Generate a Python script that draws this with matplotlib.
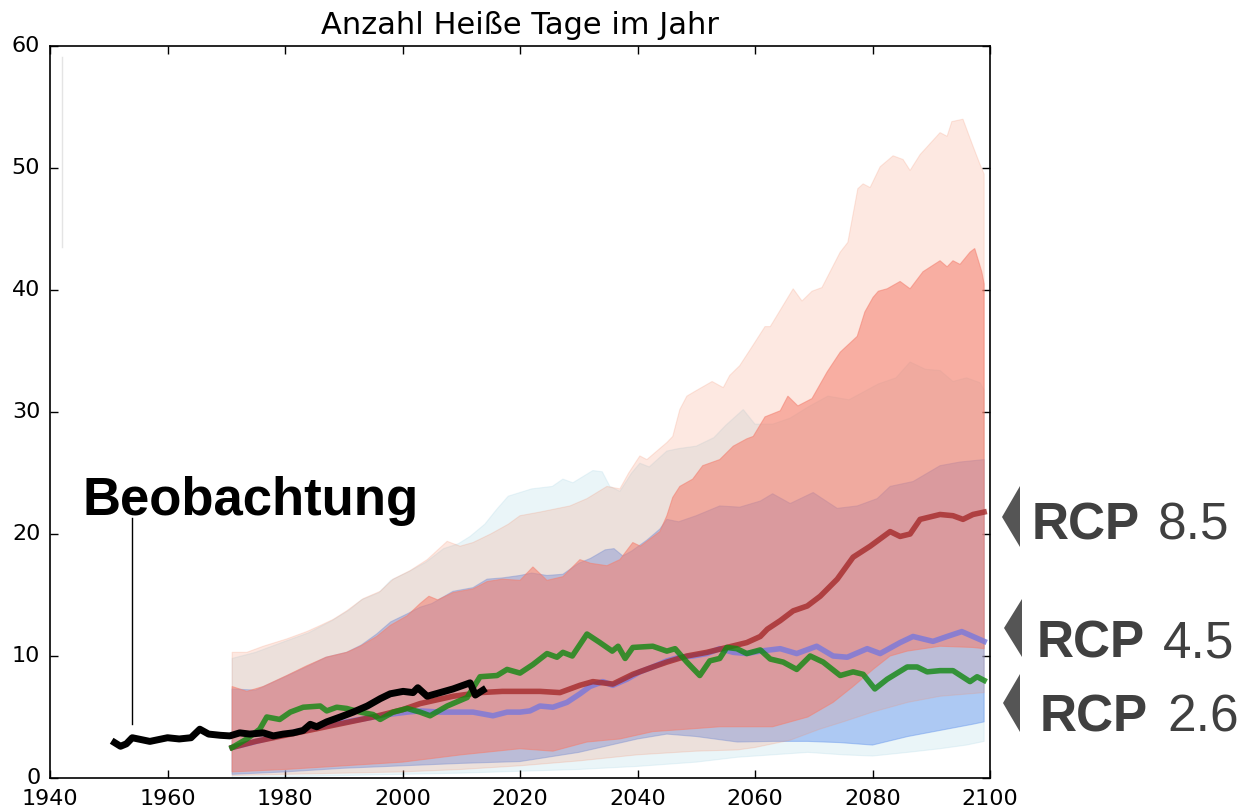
import numpy as np
import matplotlib
matplotlib.use("Agg")
import matplotlib.pyplot as plt
from matplotlib.patches import Polygon
from matplotlib.transforms import ScaledTranslation

# ---------------- data ----------------
title = "Anzahl Heiße Tage im Jahr"
xticks = [1940, 1960, 1980, 2000, 2020, 2040, 2060, 2080, 2100]
yticks = [0, 10, 20, 30, 40, 50, 60]

# RCP4.5 outer band (min-max)
yr_45o_up = [1971, 1975, 1980, 1984, 1988, 1991, 1993, 1996, 1998, 2001, 2004, 2007, 2009.5, 2011.5,
             2014, 2016, 2018, 2020, 2022, 2025.5, 2027.3, 2029, 2032.4, 2034, 2035.3, 2037, 2039,
             2040.4, 2042, 2045, 2047, 2050, 2053, 2055, 2058, 2060, 2063, 2066, 2069, 2072.4, 2076,
             2081, 2084, 2086.4, 2089, 2091.5, 2093.7, 2096, 2098.3, 2099]
v_45o_up = [9.8, 10.3, 11.2, 11.9, 12.9, 13.8, 14.6, 15.2, 16.2, 16.9, 17.7, 18.8, 19.2, 19.8,
            20.8, 22.0, 23.1, 23.4, 23.7, 23.9, 24.5, 24.2, 25.2, 25.1, 23.9, 23.5, 25.0,
            25.8, 25.5, 26.8, 27.0, 27.2, 27.9, 28.9, 30.2, 29.0, 29.0, 29.5, 30.4, 31.3, 31.0,
            32.3, 32.8, 34.1, 33.5, 33.4, 32.5, 32.8, 32.4, 31.8]
yr_45o_lo = [1971, 1980, 1990, 2000, 2010, 2020, 2030, 2040, 2050, 2057, 2063, 2069, 2075, 2080,
             2086, 2091.5, 2096, 2099]
v_45o_lo = [0.0, 0.1, 0.2, 0.3, 0.4, 0.55, 0.7, 0.95, 1.3, 1.7, 1.9, 2.1, 1.9, 1.8,
            2.1, 2.4, 2.7, 3.0]

# RCP8.5 outer band (min-max)
yr_85o_up = [1971, 1973.5, 1976.3, 1980.3, 1983.7, 1986, 1988.2, 1990.5, 1993.3, 1996.2, 1998.4,
             2001.3, 2004.2, 2007.6, 2009.8, 2012, 2015, 2018, 2020, 2023.4, 2028.5, 2031.4,
             2034.8, 2037, 2038.5, 2040.4, 2041.6, 2045, 2046, 2047.2, 2048.4, 2049.8, 2052.7,
             2054.6, 2055.7, 2057.4, 2059.7, 2061.7, 2062.6, 2066.5, 2068, 2069.7, 2071.4, 2074.5,
             2075.8, 2077.5, 2078.4, 2079.6, 2081.3, 2083.5, 2085.2, 2086.4, 2088.1, 2091.5,
             2092.7, 2093.5, 2095.4, 2097.1, 2098.3, 2099]
v_85o_up = [10.3, 10.3, 10.8, 11.4, 12.0, 12.5, 13.0, 13.7, 14.7, 15.3, 16.3,
            17.0, 17.9, 19.4, 19.0, 19.3, 20.0, 20.8, 21.5, 21.8, 22.3, 22.9,
            23.9, 23.7, 25.0, 26.4, 26.1, 27.5, 28.0, 30.2, 31.3, 31.7, 32.5,
            32.0, 33.0, 33.8, 35.5, 37.0, 37.0, 40.1, 39.1, 39.9, 40.2, 43.1,
            43.9, 48.3, 48.7, 48.4, 50.1, 51.0, 50.7, 49.8, 51.1, 52.9,
            52.6, 53.8, 54.0, 51.8, 50.3, 49.5]
yr_85o_lo = [1971, 1980, 1990, 2000, 2010, 2020, 2030, 2040, 2050, 2057, 2060, 2066, 2071, 2075,
             2080, 2086, 2091.5, 2099]
v_85o_lo = [0.2, 0.3, 0.4, 0.5, 0.7, 1.0, 1.4, 1.9, 2.2, 2.3, 2.5, 3.1, 4.0, 4.6,
            5.4, 6.2, 6.7, 7.0]

# RCP4.5 inner band
yr_45i_up = [1971, 1975, 1980, 1984, 1987, 1990.5, 1993, 1995.6, 1998, 2001, 2003, 2005, 2008.6,
             2012, 2014.4, 2017, 2020, 2022, 2024.6, 2027.3, 2030, 2032, 2034.5, 2036, 2037.5,
             2039, 2041.6, 2043.8, 2045, 2047, 2050, 2054, 2057.4, 2060.9, 2063, 2066, 2069.9,
             2074, 2077.4, 2080.8, 2083, 2086.9, 2091.5, 2094.9, 2099]
v_45i_up = [7.3, 7.2, 8.3, 9.2, 9.9, 10.3, 10.9, 11.8, 12.8, 13.5, 14.0, 14.3, 15.3,
            15.6, 16.3, 16.4, 16.6, 16.8, 16.6, 16.7, 17.6, 18.0, 18.7, 18.8, 18.2,
            18.6, 19.5, 20.4, 21.2, 21.0, 21.5, 22.3, 22.2, 22.7, 23.3, 22.5, 23.4,
            22.1, 22.3, 22.9, 23.9, 24.3, 25.6, 25.9, 26.1]
yr_45i_lo = [1971, 1980, 1990, 2000, 2010, 2020, 2030, 2040, 2045, 2050, 2057, 2063, 2069, 2074.5,
             2080, 2086, 2091.5, 2097, 2099]
v_45i_lo = [0.3, 0.5, 0.8, 1.0, 1.2, 1.35, 2.1, 3.2, 3.6, 3.4, 2.95, 3.0, 3.0, 2.9,
            2.7, 3.4, 3.9, 4.4, 4.6]

# RCP8.5 inner band
yr_85i_up = [1971, 1973.5, 1976.3, 1980.3, 1983.7, 1987, 1990.5, 1992.8, 1995.6, 1997.9, 2000.8,
             2003, 2004.5, 2006, 2008.6, 2012, 2014.4, 2017, 2020, 2022.2, 2024.6, 2027.3, 2030.2,
             2032, 2034.8, 2037, 2039.2, 2040.5, 2041.6, 2043.8, 2045, 2046, 2047.2, 2049.4,
             2051.1, 2054, 2056.3, 2058.6, 2059.7, 2061.7, 2064.3, 2065.6, 2067.3, 2069.7, 2072.3,
             2074.5, 2077.4, 2078.7, 2080.1, 2081, 2082.5, 2084.7, 2086.4, 2088.6, 2091.5, 2092.7,
             2093.7, 2094.9, 2096.6, 2097.4, 2098.6, 2099]
v_85i_up = [7.5, 7.1, 7.5, 8.4, 9.2, 9.9, 10.3, 10.8, 11.6, 12.5, 13.3,
            14.3, 14.9, 14.6, 15.2, 15.5, 16.1, 16.3, 16.2, 17.3, 16.2, 16.5, 17.9,
            17.6, 17.4, 17.9, 19.3, 19.0, 19.4, 20.2, 21.5, 23.0, 23.9, 24.5,
            25.6, 26.1, 27.2, 27.8, 28.0, 29.6, 30.1, 31.3, 30.5, 31.1, 33.3,
            34.9, 36.2, 38.2, 39.4, 39.9, 40.1, 40.7, 40.1, 41.5, 42.4, 41.9,
            42.4, 42.1, 43.1, 43.4, 41.5, 40.5]
yr_85i_lo = [1971, 1980, 1990, 2000, 2010, 2020, 2025.6, 2031.4, 2037, 2042.6, 2048.4, 2054, 2059,
             2063, 2069, 2073.3, 2076.7, 2080.1, 2083, 2085.9, 2091.5, 2097.1, 2099]
v_85i_lo = [0.5, 0.7, 1.0, 1.3, 1.9, 2.4, 2.2, 2.95, 3.2, 3.8, 4.0, 4.2, 4.2,
            4.2, 5.0, 6.2, 7.5, 8.9, 10.0, 10.4, 10.8, 10.7, 10.6]

# Median lines
yr_rcp45 = [1971, 1980, 1986, 1991.6, 1997.4, 2000.8, 2003, 2006.4, 2012, 2015.4, 2017.8, 2020,
            2021.7, 2023.4, 2025.6, 2028, 2030.2, 2031.9, 2034.1, 2035.8, 2038.2, 2040.4, 2042.6,
            2045, 2047.2, 2049.4, 2051.8, 2054, 2056.3, 2058.6, 2060.9, 2064.3, 2067.1, 2070.5,
            2073.3, 2075.7, 2079.1, 2081.3, 2084.7, 2086.9, 2090.3, 2092.7, 2095.2, 2097.1, 2099]
v_rcp45 = [2.5, 3.6, 4.2, 4.7, 5.2, 5.4, 5.5, 5.4, 5.4, 5.1, 5.4, 5.4,
           5.5, 5.9, 5.8, 6.2, 6.9, 7.5, 7.9, 7.6, 8.1, 8.7, 9.1,
           9.6, 9.9, 10.0, 10.2, 10.6, 10.3, 10.2, 10.4, 10.6, 10.2, 10.8,
           10.0, 9.9, 10.6, 10.2, 11.1, 11.6, 11.2, 11.6, 12.0, 11.6, 11.2]

yr_rcp85 = [1971, 1975, 1980, 1985, 1990, 1995, 2000, 2003, 2008.6, 2013.2, 2017, 2020, 2023.4,
            2026.8, 2030.2, 2032.4, 2035.8, 2039.2, 2042.6, 2045, 2048.4, 2051.8, 2055.2, 2058.6,
            2060.9, 2062.1, 2064.3, 2066.5, 2068.9, 2071.1, 2074, 2076.7, 2079.6, 2083, 2084.7,
            2086.4, 2088.1, 2091.5, 2093.7, 2095.4, 2097.1, 2099]
v_rcp85 = [2.5, 3.0, 3.5, 4.0, 4.5, 5.0, 5.6, 6.1, 6.7, 7.0, 7.1, 7.1, 7.1,
           7.0, 7.6, 7.9, 7.7, 8.5, 9.1, 9.5, 10.0, 10.3, 10.7, 11.1,
           11.6, 12.2, 12.9, 13.7, 14.1, 14.9, 16.3, 18.1, 19.0, 20.2, 19.8,
           20.0, 21.2, 21.6, 21.5, 21.2, 21.6, 21.8]

yr_rcp26 = [1971, 1973.5, 1975.7, 1976.9, 1979.1, 1980.9, 1983.1, 1986, 1987.1, 1988.8, 1990.5,
            1992.8, 1995, 1996.2, 1998.4, 2000.8, 2003, 2004.7, 2007.6, 2011, 2013.2, 2016.1,
            2017.8, 2020, 2022.2, 2024.6, 2026.3, 2027.3, 2028.9, 2031.4, 2033.6, 2035.7, 2036.7,
            2037.9, 2039.2, 2042.6, 2045, 2046.4, 2048.4, 2050.6, 2052.3, 2054, 2055.2, 2056.9,
            2058.6, 2060.9, 2062.6, 2064.8, 2067.1, 2069.4, 2071.6, 2074.5, 2076.7, 2078.4,
            2080.4, 2082.5, 2085.9, 2087.6, 2089.3, 2091.5, 2093.7, 2096.6, 2097.8, 2099]
v_rcp26 = [2.5, 3.2, 4.0, 5.0, 4.8, 5.4, 5.8, 5.9, 5.5, 5.8, 5.7,
           5.4, 5.2, 4.8, 5.4, 5.7, 5.4, 5.1, 5.9, 6.6, 8.3, 8.4,
           8.9, 8.6, 9.3, 10.2, 9.9, 10.3, 10.0, 11.8, 11.1, 10.4, 10.8,
           9.8, 10.7, 10.8, 10.4, 10.6, 9.5, 8.4, 9.6, 9.8, 10.7, 10.6,
           10.2, 10.5, 9.75, 9.5, 8.9, 10.0, 9.5, 8.4, 8.7, 8.5,
           7.3, 8.1, 9.1, 9.1, 8.7, 8.8, 8.8, 7.9, 8.3, 8.0]

yr_obs = [1951, 1952, 1953, 1954, 1955, 1957, 1959, 1960, 1962, 1964, 1965.5, 1967, 1969, 1970.6,
          1972.3, 1974, 1976.3, 1978, 1979.7, 1981.4, 1983.1, 1984.3, 1985.4, 1987.1, 1989.4,
          1991.6, 1994, 1996.2, 1997.9, 2000.1, 2001.8, 2002.6, 2004.2, 2006.4, 2008.6, 2011.5,
          2012.4, 2013.7]
v_obs = [2.9, 2.6, 2.8, 3.3, 3.2, 3.0, 3.2, 3.3, 3.2, 3.3, 4.0, 3.6, 3.5, 3.45,
         3.7, 3.6, 3.7, 3.45, 3.6, 3.7, 3.9, 4.4, 4.2, 4.6, 5.0,
         5.4, 5.9, 6.5, 6.9, 7.1, 7.0, 7.4, 6.7, 7.0, 7.3, 7.8,
         6.8, 7.2]

obs_label = "Beobachtung"
rcp_labels = [("RCP", "8.5"), ("RCP", "4.5"), ("RCP", "2.6")]

# ---------------- figure ----------------
W, H = 1237, 812
fig = plt.figure(figsize=(W / 100, H / 100), dpi=100)
ax = fig.add_axes([50 / W, (H - 779) / H, 940 / W, 732 / H])


def band(xu, yu, xl, yl, color, alpha, z):
    xs = np.r_[np.asarray(xu, float), np.asarray(xl, float)[::-1]]
    ys = np.r_[np.asarray(yu, float), np.asarray(yl, float)[::-1]]
    ax.fill(xs, ys, facecolor=color, alpha=alpha, edgecolor=color, linewidth=0.8, zorder=z)


band(yr_45o_up, v_45o_up, yr_45o_lo, v_45o_lo, "lightblue", 0.25, 1)
band(yr_45i_up, v_45i_up, yr_45i_lo, v_45i_lo, "cornflowerblue", 0.45, 2)
band(yr_85o_up, v_85o_up, yr_85o_lo, v_85o_lo, "#f58c69", 0.2, 3)
band(yr_85i_up, v_85i_up, yr_85i_lo, v_85i_lo, "#f47f6f", 0.55, 4)

ax.plot(yr_rcp45, v_rcp45, color="#7878dc", lw=4, alpha=0.8, zorder=5, solid_joinstyle="round")
ax.plot(yr_rcp85, v_rcp85, color="brown", lw=4, alpha=0.8, zorder=6, solid_joinstyle="round")
ax.plot(yr_rcp26, v_rcp26, color="#118811", lw=4, alpha=0.8, zorder=7, solid_joinstyle="round")
ax.plot(yr_obs, v_obs, color="black", lw=5, zorder=8, solid_joinstyle="round")

# faint artefact line near the left edge
ax.plot([1942, 1942], [43.5, 59.1], color="#e4e4e4", lw=1, zorder=0)

ax.set_xlim(1940, 2100)
ax.set_ylim(0, 60)
ax.set_xticks(xticks)
ax.set_yticks(yticks)
ax.tick_params(direction="in", length=6, width=1, top=True, right=True,
               labelsize=16, colors="black")
ax.tick_params(axis="x", pad=7.5)
ax.tick_params(axis="y", pad=7)
shift_up = ScaledTranslation(0, 2.5 / 72, fig.dpi_scale_trans)
for lab in ax.get_yticklabels():
    lab.set_transform(lab.get_transform() + shift_up)
for s in ax.spines.values():
    s.set_linewidth(1.2)
ax.set_title(title, fontsize=22, pad=9)

# observation label
ax.text(1945.6, 21.6, obs_label, fontfamily="Liberation Sans", fontweight="bold",
        fontsize=38, ha="left", va="baseline", zorder=10)
ax.plot([1954, 1954], [4.4, 21.3], color="black", lw=1, zorder=9)

# right-hand RCP labels
def fx(px):
    return px / W


def fy(py):
    return 1 - py / H


tri_pts = [
    [(1002, 518), (1020, 487), (1020, 548)],
    [(1004, 629), (1022, 600), (1022, 658)],
    [(1003, 704), (1020, 675), (1020, 733)],
]
lab_pos = [(1032, 1158, 540), (1037, 1163, 657), (1040, 1167, 732)]
for pts, (x1, x2, yb), (a, b) in zip(tri_pts, lab_pos, rcp_labels):
    fig.patches.append(Polygon([(fx(x), fy(y)) for x, y in pts], closed=True,
                               transform=fig.transFigure, facecolor="#555555",
                               edgecolor="none"))
    fig.text(fx(x1), fy(yb), a, fontfamily="Liberation Sans", fontweight="bold",
             fontsize=37, color="#404040", ha="left", va="baseline")
    fig.text(fx(x2), fy(yb), b, fontfamily="Liberation Sans", fontweight="normal",
             fontsize=37, color="#404040", ha="left", va="baseline")

fig.savefig("out.png", dpi=100)
